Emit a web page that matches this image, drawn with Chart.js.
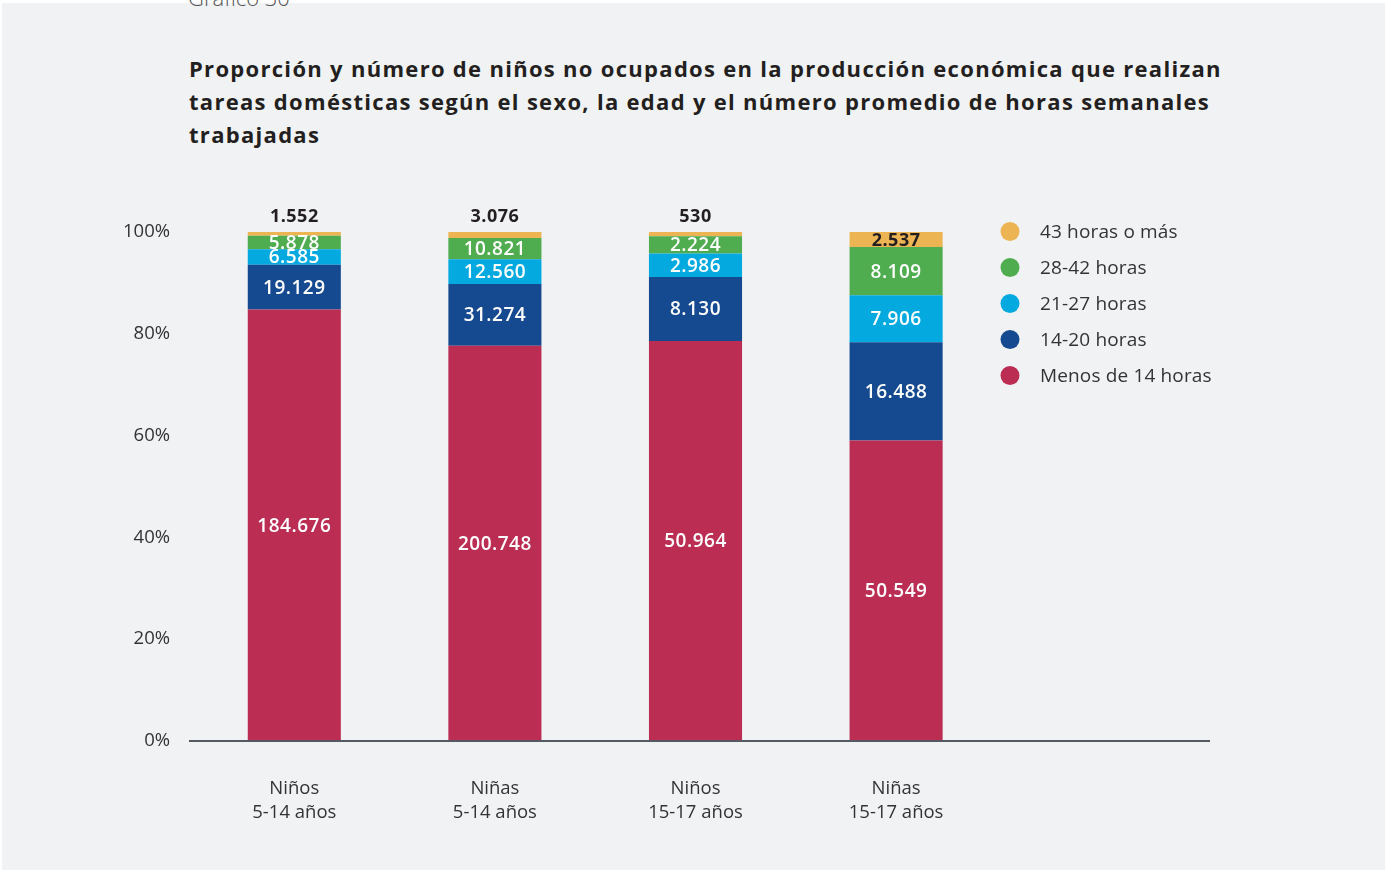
<!DOCTYPE html>
<html lang="es">
<head>
<meta charset="utf-8">
<script src="https://cdn.jsdelivr.net/npm/chart.js@4/dist/chart.umd.min.js"></script>
<style>
  html, body { margin: 0; padding: 0; background: #ffffff; width: 1387px; height: 873px; overflow: hidden; }
  #panel { position: absolute; left: 2px; top: 3px; width: 1383px; height: 867px; background: #f1f2f4; }
  #kicker { position: absolute; left: 188px; top: -18px; font: 300 22px 'Open Sans', sans-serif; color: #555; white-space: nowrap; }
  #title { position: absolute; left: 189px; top: 52px; font: 700 22px/33px 'Open Sans', sans-serif; letter-spacing: 1.3px; color: #231f20; white-space: nowrap; }
  #chart { position: absolute; left: 0; top: 0; }
</style>
</head>
<body>
<div id="panel"></div>
<div id="kicker">Gráfico 30</div>
<div id="title">Proporción y número de niños no ocupados en la producción económica que realizan<br>tareas domésticas según el sexo, la edad y el número promedio de horas semanales<br>trabajadas</div>
<canvas id="chart" width="1387" height="873"></canvas>
<script>
// Categories (sexo y edad)
const categories = [["Niños", "5-14 años"], ["Niñas", "5-14 años"], ["Niños", "15-17 años"], ["Niñas", "15-17 años"]];

// Number of children by weekly hours of domestic work
const menos14 = [184676, 200748, 50964, 50549];
const h14a20  = [19129, 31274, 8130, 16488];
const h21a27  = [6585, 12560, 2986, 7906];
const h28a42  = [5878, 10821, 2224, 8109];
const h43mas  = [1552, 3076, 530, 2537];

const seriesNames  = ["Menos de 14 horas", "14-20 horas", "21-27 horas", "28-42 horas", "43 horas o más"];
const seriesColors = ["#bb2d53", "#154a90", "#03a9df", "#4fad4f", "#ecb452"];
const yTicks = [0, 20, 40, 60, 80, 100];

const counts = [menos14, h14a20, h21a27, h28a42, h43mas];
const totals = categories.map((_, i) => counts.reduce((s, arr) => s + arr[i], 0));

// Spanish thousands separator
const fmt = n => String(n).replace(/\B(?=(\d{3})+(?!\d))/g, ".");

// An empty slot on the right leaves room for the legend
const labels = categories.concat([""]);

const datasets = counts.map((arr, k) => ({
  label: seriesNames[k],
  counts: arr,
  data: arr.map((v, i) => v / totals[i] * 100),
  backgroundColor: seriesColors[k],
  borderWidth: 0,
  categoryPercentage: 1,
  barPercentage: 0.464
}));

const segmentLabels = {
  id: "segmentLabels",
  afterDatasetsDraw(chart) {
    const ctx = chart.ctx;
    const last = chart.data.datasets.length - 1;
    ctx.save();
    ctx.textAlign = "center";
    ctx.textBaseline = "middle";
    chart.data.datasets.forEach((ds, k) => {
      const meta = chart.getDatasetMeta(k);
      meta.data.forEach((bar, i) => {
        if (ds.counts[i] == null) return;
        const top = Math.min(bar.y, bar.base);
        const h = Math.abs(bar.base - bar.y);
        const text = fmt(ds.counts[i]);
        let y = top + h / 2 + 1;
        if (k === last) {
          ctx.fillStyle = "#231f20";
          ctx.font = "700 18px 'Open Sans', sans-serif";
          if (h < 10) y = top - 15;
        } else {
          ctx.fillStyle = "#ffffff";
          ctx.font = "600 19px 'Open Sans', sans-serif";
        }
        if ("letterSpacing" in ctx) ctx.letterSpacing = "0.5px";
        ctx.fillText(text, bar.x, y);
      });
    });
    ctx.restore();
  }
};

const baselineAndLegend = {
  id: "baselineAndLegend",
  afterDraw(chart) {
    const ctx = chart.ctx;
    const ys = chart.scales.y;
    const area = chart.chartArea;
    const y0 = ys.getPixelForValue(0);
    ctx.save();
    // baseline
    ctx.strokeStyle = "#555a60";
    ctx.lineWidth = 2;
    ctx.beginPath();
    ctx.moveTo(area.left - 5, y0);
    ctx.lineTo(area.right + 13, y0);
    ctx.stroke();
    // legend, top series first
    const items = chart.data.datasets.slice().reverse();
    ctx.font = "400 19px 'Open Sans', sans-serif";
    if ("letterSpacing" in ctx) ctx.letterSpacing = "0.15px";
    ctx.textAlign = "left";
    ctx.textBaseline = "middle";
    items.forEach((ds, j) => {
      const cy = 231.5 + j * 36;
      ctx.fillStyle = ds.backgroundColor;
      ctx.beginPath();
      ctx.arc(1010, cy, 9.5, 0, Math.PI * 2);
      ctx.fill();
      ctx.fillStyle = "#333333";
      ctx.fillText(ds.label, 1040, cy + 1);
    });
    ctx.restore();
  }
};

new Chart(document.getElementById("chart"), {
  type: "bar",
  data: { labels, datasets },
  options: {
    responsive: false,
    animation: false,
    devicePixelRatio: 1,
    layout: { padding: { left: 0, right: 190, top: 232, bottom: 32 } },
    plugins: {
      legend: { display: false },
      tooltip: { enabled: false },
      title: { display: false }
    },
    scales: {
      x: {
        stacked: true,
        grid: { display: false, drawTicks: false },
        border: { display: false },
        ticks: {
          color: "#333333",
          font: { family: "'Open Sans', sans-serif", size: 18.5, lineHeight: 1.33 },
          padding: 35,
          maxRotation: 0,
          autoSkip: false
        },
        afterFit(scale) { scale.height = 100; }
      },
      y: {
        stacked: true,
        min: 0,
        max: 100,
        grid: { display: false, drawTicks: false },
        border: { display: false },
        afterBuildTicks(scale) { scale.ticks = yTicks.map(v => ({ value: v })); },
        ticks: {
          color: "#333333",
          font: { family: "'Open Sans', sans-serif", size: 18.5 },
          padding: 24,
          callback: v => v + "%"
        },
        afterFit(scale) { scale.width = 194; }
      }
    }
  },
  plugins: [segmentLabels, baselineAndLegend]
});
</script>
</body>
</html>
